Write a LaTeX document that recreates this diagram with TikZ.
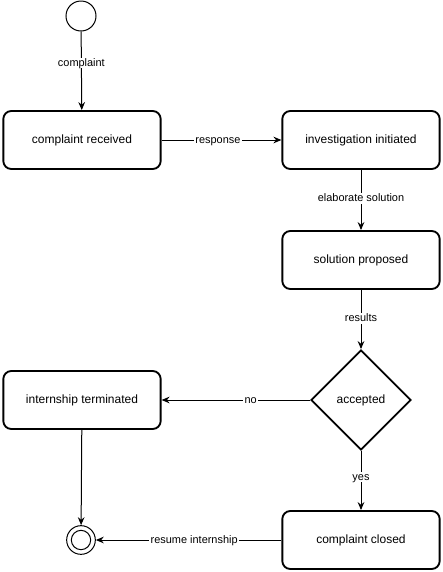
\documentclass[tikz,border=0pt]{standalone}
\usepackage{fontspec}
\setmainfont{Liberation Sans}
\usetikzlibrary{arrows.meta,shapes.geometric}
\begin{document}
\begin{tikzpicture}[x=0.75pt,y=-0.75pt,
  state/.style={draw,line width=1.4pt,rounded corners=6pt,minimum width=118pt,minimum height=43.5pt,inner sep=0pt,font=\fontsize{9}{11}\selectfont},
  choice/.style={draw,diamond,line width=1.4pt,minimum width=75pt,minimum height=75pt,inner sep=0pt,font=\fontsize{9}{11}\selectfont,aspect=1},
  flow/.style={line width=0.75pt,-{Stealth[length=6pt,width=5pt,inset=2pt]}},
  lbl/.style={fill=white,inner sep=1pt,font=\fontsize{8.2}{10}\selectfont,text height=5.5pt,text depth=0.5pt}]
\useasboundingbox (0,0) rectangle (443,572);
\node[draw,circle,line width=0.75pt,minimum size=22.5pt,inner sep=0pt] (start) at (81,16) {};
\node[state] (recv) at (82,140) {complaint received};
\node[state] (inv) at (361,140) {investigation initiated};
\node[state] (sol) at (361,260) {solution proposed};
\node[choice] (acc) at (361,400) {accepted};
\node[state] (term) at (82,400) {internship terminated};
\node[state] (closed) at (361,540) {complaint closed};
\node[draw,circle,line width=0.75pt,minimum size=21.5pt,inner sep=0pt] (end) at (81,540) {};
\node[draw,circle,line width=0.75pt,minimum size=14.5pt,inner sep=0pt] (endin) at (81,540) {};
\draw[flow] (start) -- node[lbl,pos=0.4] {complaint} (recv);
\draw[flow] (recv) -- node[lbl,pos=0.47] {response} (inv);
\draw[flow] (inv) -- node[lbl,pos=0.47] {elaborate solution} (sol);
\draw[flow] (sol) -- node[lbl,pos=0.48] {results} (acc);
\draw[flow] (acc) -- node[lbl,pos=0.4] {no} (term);
\draw[flow] (acc) -- node[lbl,pos=0.44] {yes} (closed);
\draw[flow] (term) -- (end);
\draw[flow] (closed) -- node[lbl,pos=0.47] {resume internship} (end);
\end{tikzpicture}
\end{document}
